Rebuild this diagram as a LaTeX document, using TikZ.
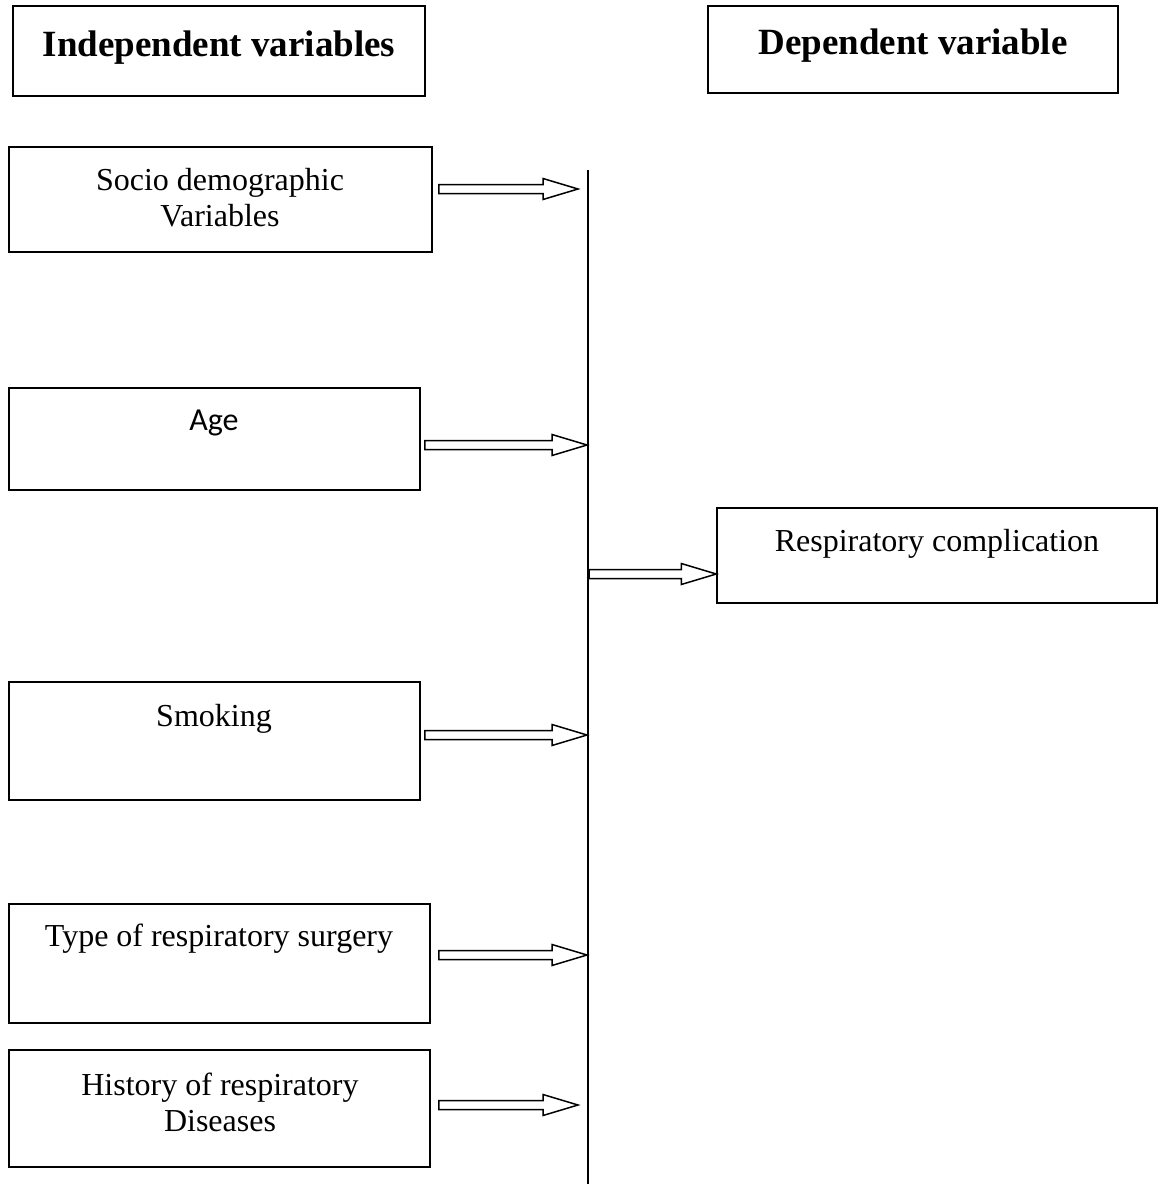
\documentclass[tikz,border=0pt]{standalone}
\usepackage{fontspec}
\setmainfont{Liberation Serif}
\newfontfamily\agefont{Carlito}
\usetikzlibrary{calc}
\tikzset{
  box/.style={draw, line width=1.5pt, rectangle, inner sep=0pt},
  lbl/.style={align=center, font=\fontsize{32}{36}\selectfont, inner sep=0pt},
  ttl/.style={align=center, font=\fontsize{37}{40}\selectfont\bfseries, inner sep=0pt},
  barrow/.style={draw, line width=1.5pt, fill=white, line join=miter},
}
\newcommand\blockarrow[2]{%
  \path[barrow] let \p1=(#1), \p2=(#2) in
    (\x1,\y1+4.5pt) -- (\x2-35pt,\y1+4.5pt) -- (\x2-35pt,\y1+10.5pt) -- (\x2,\y1)
    -- (\x2-35pt,\y1-10.5pt) -- (\x2-35pt,\y1-4.5pt) -- (\x1,\y1-4.5pt) -- cycle;}
\begin{document}
\begin{tikzpicture}[x=1pt,y=-1pt]
\useasboundingbox (0,0) rectangle (1164,1184);
% title boxes
\node[box, minimum width=412, minimum height=90] (indep) at (219,51) {};
\node[ttl] (indept) at (219,48) {Independent variables};
\node[box, minimum width=410, minimum height=87] (dep) at (913,49.5) {};
\node[ttl] (dept) at (913,46) {Dependent variable};
% independent boxes
\node[box, minimum width=423, minimum height=105] (socio) at (220.5,199.5) {};
\node[lbl] at (220,198) {Socio demographic\\Variables};
\node[box, minimum width=411, minimum height=102] (age) at (214.5,439) {};
\node[lbl, font=\fontsize{32}{36}\selectfont\agefont] at (214,423) {Age};
\node[box, minimum width=411, minimum height=118] (smoke) at (214.5,741) {};
\node[lbl] at (214,719) {Smoking};
\node[box, minimum width=421, minimum height=119] (type) at (219.5,963.5) {};
\node[lbl] at (219,939) {Type of respiratory surgery};
\node[box, minimum width=421, minimum height=117] (hist) at (219.5,1108.5) {};
\node[lbl] at (220,1102) {History of respiratory\\Diseases};
% dependent box
\node[box, minimum width=440, minimum height=95] (resp) at (937,555.5) {};
\node[lbl] at (937,544) {Respiratory complication};
% vertical bar
\coordinate (vtop) at (588,170);
\coordinate (vbot) at (588,1184);
\draw[line width=1.5pt] (vtop) -- (vbot);
% arrow end points
\coordinate (s1) at ($(socio.east |- 0,189)+(6,0)$);
\coordinate (e1) at (578,189);
\coordinate (s2) at ($(age.east |- 0,445)+(4,0)$);
\coordinate (e2) at (587,445);
\coordinate (s3) at ($(smoke.east |- 0,735)+(4,0)$);
\coordinate (e3) at (587,735);
\coordinate (s4) at ($(type.east |- 0,955)+(8,0)$);
\coordinate (e4) at (587,955);
\coordinate (s5) at ($(hist.east |- 0,1105)+(8,0)$);
\coordinate (e5) at (578,1105);
\coordinate (s6) at (589,574);
\coordinate (e6) at (resp.west |- 0,574);
\blockarrow{s1}{e1}
\blockarrow{s2}{e2}
\blockarrow{s3}{e3}
\blockarrow{s4}{e4}
\blockarrow{s5}{e5}
\blockarrow{s6}{e6}
\end{tikzpicture}
\end{document}
